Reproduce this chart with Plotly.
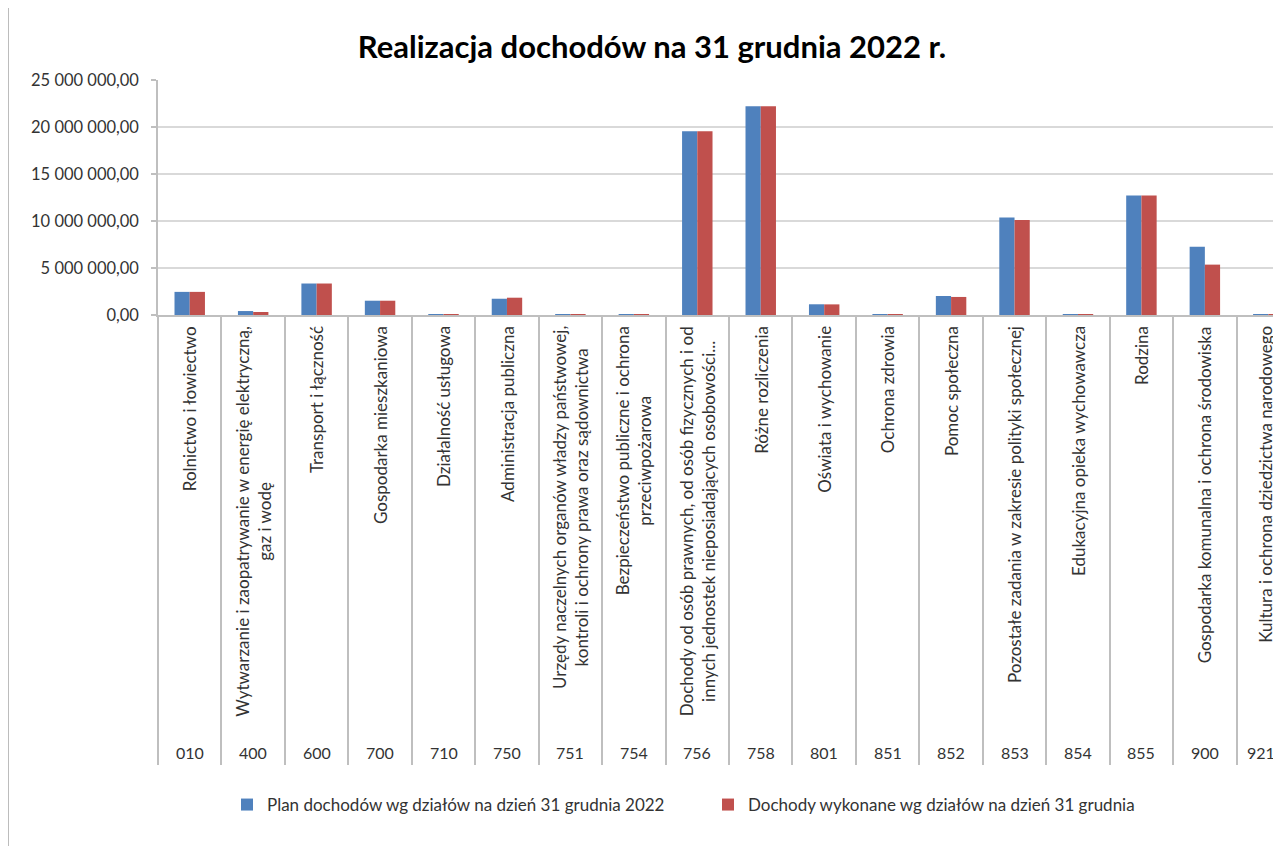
import plotly.graph_objects as go

codes = ["010", "400", "600", "700", "710", "750", "751", "754", "756", "758",
         "801", "851", "852", "853", "854", "855", "900", "921"]
names = [
    "Rolnictwo i łowiectwo",
    "Wytwarzanie i zaopatrywanie w energię elektryczną,<br>gaz i wodę",
    "Transport i łączność",
    "Gospodarka mieszkaniowa",
    "Działalność usługowa",
    "Administracja publiczna",
    "Urzędy naczelnych organów władzy państwowej,<br>kontroli i ochrony prawa oraz sądownictwa",
    "Bezpieczeństwo publiczne i ochrona<br>przeciwpożarowa",
    "Dochody od osób prawnych, od osób fizycznych i od<br>innych jednostek nieposiadających osobowości...",
    "Różne rozliczenia",
    "Oświata i wychowanie",
    "Ochrona zdrowia",
    "Pomoc społeczna",
    "Pozostałe zadania w zakresie polityki społecznej",
    "Edukacyjna opieka wychowawcza",
    "Rodzina",
    "Gospodarka komunalna i ochrona środowiska",
    "Kultura i ochrona dziedzictwa narodowego",
]
plan = [2460000, 420000, 3350000, 1520000, 50000, 1730000, 50000, 50000, 19550000,
        22200000, 1140000, 50000, 2020000, 10360000, 50000, 12700000, 7270000, 80000]
wykonane = [2460000, 320000, 3350000, 1520000, 40000, 1840000, 40000, 40000, 19550000,
            22200000, 1130000, 50000, 1920000, 10100000, 40000, 12700000, 5360000, 80000]
series_names = ["Plan dochodów wg działów na dzień 31 grudnia 2022",
                "Dochody wykonane wg działów na dzień 31 grudnia"]
y_ticks = [0, 5000000, 10000000, 15000000, 20000000, 25000000]

FONT = "Lato, 'Open Sans', sans-serif"
GRID = "#d9d9d9"
AXIS = "#bfbfbf"
TXT = "#333333"

# figure sits inside the page's default 8px body margin
W, H = 1273, 838
ML, MT, MB = 150, 72, 531
PW = W - ML
PH = H - MT - MB

x = list(range(len(codes)))

fig = go.Figure()
fig.add_trace(go.Bar(x=x, y=plan, name=series_names[0], marker_color="#4f81bd",
                     marker_line_width=0))
fig.add_trace(go.Bar(x=x, y=wykonane, name=series_names[1], marker_color="#c0504d",
                     marker_line_width=0))

annotations = []
last = len(codes) - 1
for i, (c, n) in enumerate(zip(codes, names)):
    annotations.append(dict(x=i, y=0, xref="x", yref="paper", text=n, textangle=-90,
                            showarrow=False, xanchor="center", yanchor="top", yshift=-9,
                            xshift=-3 if i == last else 0,
                            align="center", font=dict(family=FONT, size=17, color=TXT)))
    annotations.append(dict(x=i, y=0, xref="x", yref="paper", text=c,
                            showarrow=False, xanchor="center", yanchor="middle", yshift=-437,
                            xshift=-7 if i == last else 0,
                            font=dict(family=FONT, size=16, color=TXT)))

fig.update_layout(
    width=W, height=H,
    margin=dict(l=ML, r=0, t=MT, b=MB),
    paper_bgcolor="white", plot_bgcolor="white",
    separators=", ",
    barmode="group", bargap=0.52, bargroupgap=0,
    title=dict(text="<b>Realizacja dochodów na 31 grudnia 2022 r.</b>",
               x=644 / W, xanchor="center", y=1 - 39 / H, yanchor="middle",
               font=dict(family=FONT, size=31, color="#000000")),
    xaxis=dict(range=[-0.5, 17.2], showgrid=False, zeroline=False,
               showline=True, linecolor=AXIS, linewidth=1.5,
               tickmode="array", tickvals=[i - 0.5 for i in x], showticklabels=False,
               ticks="outside", ticklen=448, tickcolor=AXIS, tickwidth=1.5),
    yaxis=dict(range=[0, 25000000], tickvals=y_ticks, tickformat=",.2f",
               showgrid=True, gridcolor=GRID, gridwidth=1.5, zeroline=False,
               showline=True, linecolor=AXIS, linewidth=1.5,
               ticks="outside", ticklen=5, tickcolor=AXIS, tickwidth=1.5,
               ticklabelstandoff=9,
               tickfont=dict(family=FONT, size=16.5, color=TXT)),
    legend=dict(orientation="h", xref="container", yref="container",
                x=700 / W, xanchor="center", y=1 - 797 / H, yanchor="middle",
                font=dict(family=FONT, size=17, color=TXT), itemwidth=30,
                entrywidth=436, traceorder="normal"),
    annotations=annotations,
    shapes=[dict(type="line", xref="paper", yref="paper", x0=-ML / PW,
                 x1=-ML / PW, y0=-MB / PH, y1=1 + MT / PH,
                 line=dict(color="#a6a6a6", width=1.5))],
)

fig.write_html("out.html")
